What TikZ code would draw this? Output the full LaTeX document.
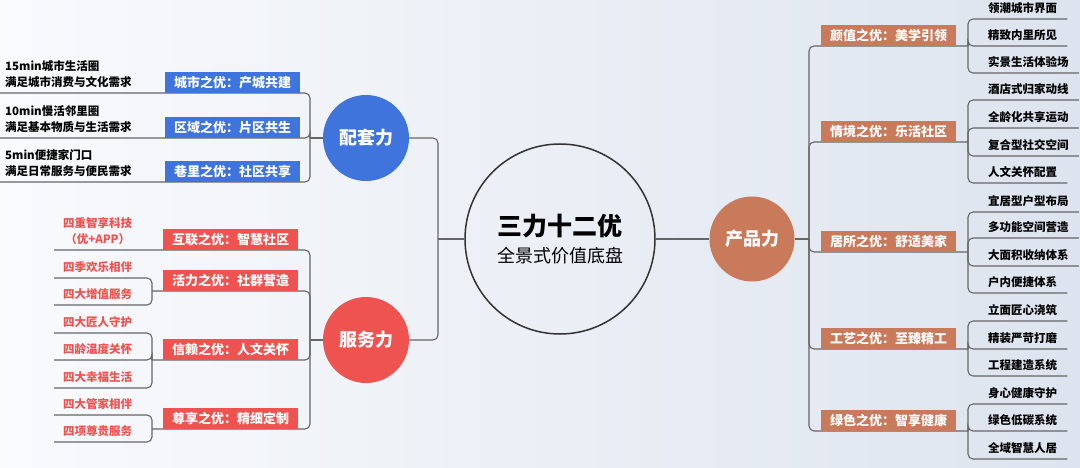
\documentclass[tikz,border=0pt]{standalone}
\usepackage{fontspec}
\setmainfont{Noto Sans CJK SC}
\usetikzlibrary{backgrounds}
\definecolor{pblue}{HTML}{3F74DC}
\definecolor{pred}{HTML}{EF5350}
\definecolor{pbrown}{HTML}{C97A5B}
\definecolor{lgray}{HTML}{666666}
\definecolor{bgleft}{HTML}{F9FAFC}
\definecolor{bgright}{HTML}{DDE4EF}

\begin{document}
\begin{tikzpicture}[x=1pt, y=-1pt,
    conn/.style={draw=lgray, line width=1.1pt, rounded corners=5pt},
    pillar/.style={circle, minimum size=86pt, inner sep=0pt, text=white, font=\fontsize{18}{22}\selectfont\bfseries},
    tag/.style={anchor=south west, minimum width=135pt, minimum height=21pt, inner sep=0pt, text=white, font=\fontsize{13}{15}\selectfont\bfseries},
    leafbase/.style={anchor=south west, inner ysep=4pt, font=\fontsize{11.5}{16}\selectfont\bfseries},
    leaf/.style={leafbase, inner xsep=10pt, text depth=2.5pt},
    redleaf/.style={leafbase, text=pred, minimum width=87pt, inner xsep=0pt, text depth=2.5pt},
    note/.style={leafbase, align=left, inner xsep=5pt, inner ysep=5pt}]
    \useasboundingbox (0,0) rectangle (1080,468);

    % Nodes
    \node[circle, draw=black!80, line width=1.5pt, minimum size=190pt, align=center, font=\fontsize{18}{26.3}\selectfont] at (560,239) (hub) {{\fontsize{25}{30}\selectfont\bfseries 三力十二优}\\全景式价值底盘};
    \node[pillar, fill=pblue] at (366,138) (peitao) {配套力};
    \node[pillar, fill=pred] at (366,340) (fuwu) {服务力};
    \node[pillar, fill=pbrown, minimum size=85pt] at (752,239) (chanpin) {产品力};

    % 配套力
    \node[note] at (0,93) (n15) {15min城市生活圈\\满足城市消费与文化需求};
    \node[note] at (0,138) (n10) {10min慢活邻里圈\\满足基本物质与生活需求};
    \node[note] at (0,182) (n5) {5min便捷家门口\\满足日常服务与便民需求};
    \node[tag, fill=pblue] at (165,93) (chengshi) {城市之优：产城共建};
    \node[tag, fill=pblue] at (165,138) (quyu) {区域之优：片区共生};
    \node[tag, fill=pblue] at (165,182) (xiangli) {巷里之优：社区共享};

    % 服务力
    \node[tag, fill=pred] at (163,250) (hulian) {互联之优：智慧社区};
    \node[tag, fill=pred] at (163,291) (huoli) {活力之优：社群营造};
    \node[tag, fill=pred] at (163,360) (xinlai) {信赖之优：人文关怀};
    \node[tag, fill=pred] at (163,429) (zunxiang) {尊享之优：精细定制};
    \node[leafbase, text=pred, minimum width=87pt, inner xsep=0pt, inner ysep=5pt, align=center] at (54,250) (a1) {四重智享科技\\（优+APP）};
    \node[redleaf] at (54,278) (b1) {四季欢乐相伴};
    \node[redleaf] at (54,305) (b2) {四大增值服务};
    \node[redleaf] at (54,333) (c1) {四大匠人守护};
    \node[redleaf] at (54,360) (c2) {四龄温度关怀};
    \node[redleaf] at (54,388) (c3) {四大幸福生活};
    \node[redleaf] at (54,415) (d1) {四大管家相伴};
    \node[redleaf] at (54,442) (d2) {四项尊贵服务};

    % 产品力
    \node[tag, fill=pbrown] at (821,46) (yanzhi) {颜值之优：美学引领};
    \node[tag, fill=pbrown] at (821,142) (qingjing) {情境之优：乐活社区};
    \node[tag, fill=pbrown] at (821,252) (jusuo) {居所之优：舒适美家};
    \node[tag, fill=pbrown] at (821,349) (gongyi) {工艺之优：至臻精工};
    \node[tag, fill=pbrown] at (821,431) (lvse) {绿色之优：智享健康};
    \node[leaf] at (978,19) (e1) {领潮城市界面};
    \node[leaf] at (978,46) (e2) {精致内里所见};
    \node[leaf] at (978,73) (e3) {实景生活体验场};
    \node[leaf] at (978,100) (f1) {酒店式归家动线};
    \node[leaf] at (978,128) (f2) {全龄化共享运动};
    \node[leaf] at (978,156) (f3) {复合型社交空间};
    \node[leaf] at (978,183) (f4) {人文关怀配置};
    \node[leaf] at (978,212) (g1) {宜居型户型布局};
    \node[leaf] at (978,238) (g2) {多功能空间营造};
    \node[leaf] at (978,266) (g3) {大面积收纳体系};
    \node[leaf] at (978,293) (g4) {户内便捷体系};
    \node[leaf] at (978,321) (h1) {立面匠心浇筑};
    \node[leaf] at (978,349) (h2) {精装严苛打磨};
    \node[leaf] at (978,376) (h3) {工程建造系统};
    \node[leaf] at (978,404) (i1) {身心健康守护};
    \node[leaf] at (978,431) (i2) {绿色低碳系统};
    \node[leaf] at (978,459) (i3) {全域智慧人居};

    % joints
    \coordinate (ljoint) at (438,239);
    \coordinate (pjoint) at (310,138);
    \coordinate (fjoint) at (310,340);
    \coordinate (huolij) at (152,291);
    \coordinate (xinlaij) at (152,360);
    \coordinate (zunxiangj) at (152,429);
    \coordinate (rjoint) at (809,239);
    \coordinate (yanzhij) at (968,46);
    \coordinate (qingjingj) at (968,142);
    \coordinate (jusuoj) at (968,252);
    \coordinate (gongyij) at (968,349);
    \coordinate (lvsej) at (968,431);

    \begin{scope}[on background layer]
    \fill[left color=bgleft, right color=bgright] (0,0) rectangle (1080,468);

    \draw[conn] (hub.west) -- (ljoint);
    \draw[conn] (ljoint) |- (peitao.east);
    \draw[conn] (ljoint) |- (fuwu.east);
    \draw[conn] (hub.east) -- (chanpin.west);

    \draw[conn] (peitao.west) -- (pjoint);
    \draw[conn] (pjoint) |- (n15.south west);
    \draw[conn] (pjoint) |- (n10.south west);
    \draw[conn] (pjoint) |- (n5.south west);

    \draw[conn] (fuwu.west) -- (fjoint);
    \draw[conn] (fjoint) |- (a1.south west);
    \draw[conn] (fjoint) |- (huolij);
    \draw[conn] (fjoint) |- (xinlaij);
    \draw[conn] (fjoint) |- (zunxiangj);
    \draw[conn] (huolij) |- (b1.south west);
    \draw[conn] (huolij) |- (b2.south west);
    \draw[conn] (xinlaij) |- (c1.south west);
    \draw[conn] (xinlaij) |- (c2.south west);
    \draw[conn] (xinlaij) |- (c3.south west);
    \draw[conn] (zunxiangj) |- (d1.south west);
    \draw[conn] (zunxiangj) |- (d2.south west);

    \draw[conn] (chanpin.east) -- (rjoint);
    \draw[conn] (rjoint) |- (yanzhij);
    \draw[conn] (rjoint) |- (qingjingj);
    \draw[conn] (rjoint) |- (jusuoj);
    \draw[conn] (rjoint) |- (gongyij);
    \draw[conn] (rjoint) |- (lvsej);
    \draw[conn] (yanzhij) |- (e1.south east);
    \draw[conn] (yanzhij) |- (e2.south east);
    \draw[conn] (yanzhij) |- (e3.south east);
    \draw[conn] (qingjingj) |- (f1.south east);
    \draw[conn] (qingjingj) |- (f2.south east);
    \draw[conn] (qingjingj) |- (f3.south east);
    \draw[conn] (qingjingj) |- (f4.south east);
    \draw[conn] (jusuoj) |- (g1.south east);
    \draw[conn] (jusuoj) |- (g2.south east);
    \draw[conn] (jusuoj) |- (g3.south east);
    \draw[conn] (jusuoj) |- (g4.south east);
    \draw[conn] (gongyij) |- (h1.south east);
    \draw[conn] (gongyij) |- (h2.south east);
    \draw[conn] (gongyij) |- (h3.south east);
    \draw[conn] (lvsej) |- (i1.south east);
    \draw[conn] (lvsej) |- (i2.south east);
    \draw[conn] (lvsej) |- (i3.south east);
    \end{scope}

  \end{tikzpicture}
\end{document}
